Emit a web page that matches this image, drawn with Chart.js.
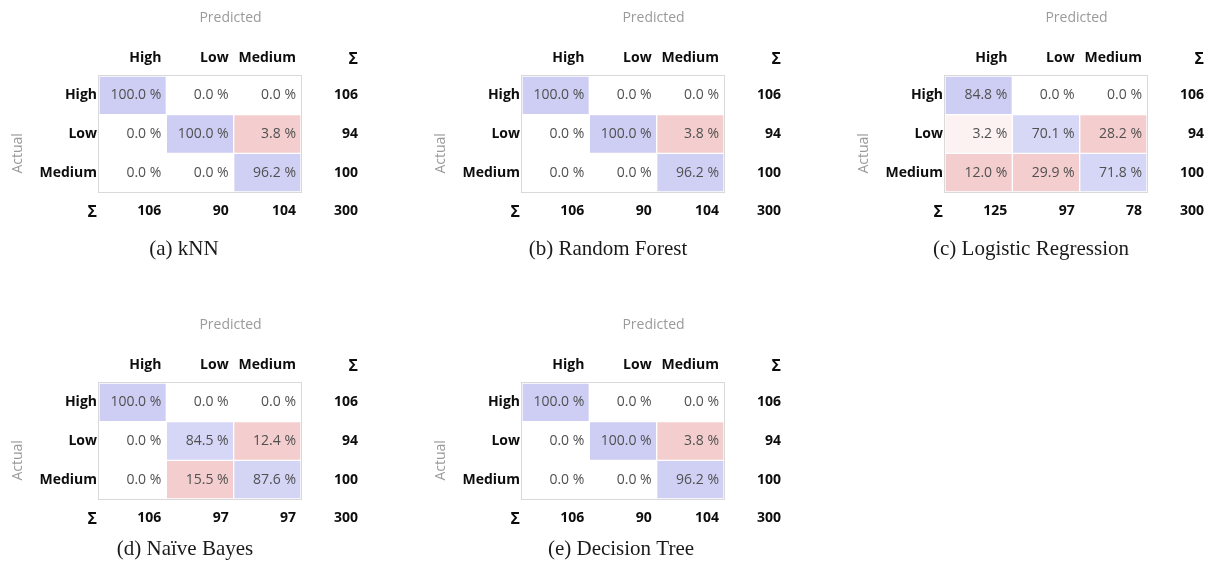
<!DOCTYPE html>
<html>
<head>
<meta charset="utf-8">
<title>Confusion matrices</title>
<script src="https://cdn.jsdelivr.net/npm/chart.js@4.4.1/dist/chart.umd.min.js"></script>
<style>
  html, body { margin: 0; padding: 0; background: #ffffff; }
  #wrap { position: relative; width: 1212px; height: 569px; overflow: hidden; }
  .panel { position: absolute; }
</style>
</head>
<body>
<div id="wrap"></div>
<script>
// Class labels (rows = actual, columns = predicted)
const classLabels = ['High', 'Low', 'Medium'];

// Proportion of predicted (%), rows = actual class, columns = predicted class
const knnPct          = [[100.0, 0.0, 0.0], [0.0, 100.0, 3.8], [0.0, 0.0, 96.2]];
const randomForestPct = [[100.0, 0.0, 0.0], [0.0, 100.0, 3.8], [0.0, 0.0, 96.2]];
const logisticPct     = [[84.8, 0.0, 0.0], [3.2, 70.1, 28.2], [12.0, 29.9, 71.8]];
const naiveBayesPct   = [[100.0, 0.0, 0.0], [0.0, 84.5, 12.4], [0.0, 15.5, 87.6]];
const decisionTreePct = [[100.0, 0.0, 0.0], [0.0, 100.0, 3.8], [0.0, 0.0, 96.2]];

// Row totals (actual counts) and column totals (predicted counts)
const actualTotals           = [106, 94, 100];
const knnPredTotals          = [106, 90, 104];
const randomForestPredTotals = [106, 90, 104];
const logisticPredTotals     = [125, 97, 78];
const naiveBayesPredTotals   = [106, 97, 97];
const decisionTreePredTotals = [106, 90, 104];
const grandTotal = 300;

const captions = ['(a) kNN', '(b) Random Forest', '(c) Logistic Regression', '(d) Naïve Bayes', '(e) Decision Tree'];

const matrices = [knnPct, randomForestPct, logisticPct, naiveBayesPct, decisionTreePct];
const predTotals = [knnPredTotals, randomForestPredTotals, logisticPredTotals, naiveBayesPredTotals, decisionTreePredTotals];

// Panel placement on the page
const panelLayout = [
  { left: 0,   top: 0,   width: 423, height: 262, capDx: 85,  capDy: 57 },
  { left: 423, top: 0,   width: 423, height: 262, capDx: 86,  capDy: 57 },
  { left: 846, top: 0,   width: 366, height: 262, capDx: 86,  capDy: 57 },
  { left: 0,   top: 307, width: 423, height: 262, capDx: 86,  capDy: 50 },
  { left: 423, top: 307, width: 423, height: 262, capDx: 99,  capDy: 50 }
];

const GRID_LEFT = 99, GRID_TOP = 76, GRID_W = 202, GRID_H = 116;
const SUM_COL_OFFSET = 57;
const UI_FONT = '"Open Sans", "Noto Sans", sans-serif';

// Cell shading: diagonal in blue, errors in red, lightness from the normalized value
function cellColors(pct) {
  const n = pct.length;
  const diagMax = Math.max(...pct.map((r, i) => r[i]));
  const colOffMax = [];
  for (let j = 0; j < n; j++) {
    let m = 0;
    for (let i = 0; i < n; i++) if (i !== j) m = Math.max(m, pct[i][j]);
    colOffMax.push(m === 0 ? 1 : m);
  }
  return pct.map((row, i) => row.map((v, j) => {
    const norm = i === j ? (diagMax > 0 ? v / diagMax : 0) : v / colOffMax[j];
    const light = (255 - 30 * norm) / 255 * 100;
    const hue = i === j ? 240 : 0;
    return `hsl(${hue}, ${(160 / 255 * 100).toFixed(2)}%, ${light.toFixed(2)}%)`;
  }));
}

const tablePlugin = {
  id: 'confusionTable',
  afterDatasetsDraw(chart, args, opts) {
    const { ctx, chartArea: a } = chart;
    const pct = opts.pct;
    const rowH = (a.bottom - a.top) / 3;
    const bar = (i, j) => chart.getDatasetMeta(i).data[j].getProps(['x', 'y', 'base', 'width'], true);
    const colRight = j => { const b = bar(0, j); return b.x + b.width / 2; };
    const rowMid = i => { const b = bar(i, 0); return (b.y + b.base) / 2; };
    const sumRight = a.right + SUM_COL_OFFSET;
    const headerY = a.top - 18;
    const sumRowY = a.bottom + rowH / 2;
    const sigmaFont = `bold 16px ${UI_FONT}`;
    const labelFont = `bold 14px ${UI_FONT}`;

    ctx.save();
    // frame around the matrix
    ctx.strokeStyle = '#d9d9d9';
    ctx.lineWidth = 1;
    ctx.strokeRect(Math.round(a.left) - 0.5, Math.round(a.top) - 0.5, Math.round(a.right - a.left) + 1, Math.round(a.bottom - a.top) + 1);

    ctx.textBaseline = 'middle';

    // axis titles
    ctx.fillStyle = '#9a9a9a';
    ctx.font = `14px ${UI_FONT}`;
    ctx.textAlign = 'center';
    ctx.fillText('Predicted', (a.left + sumRight + 4) / 2, a.top - 58);
    ctx.save();
    ctx.translate(a.left - 81, (a.top + a.bottom + rowH) / 2);
    ctx.rotate(-Math.PI / 2);
    ctx.fillText('Actual', 0, 0);
    ctx.restore();

    // column headers and row labels
    ctx.fillStyle = '#0d0d0d';
    ctx.font = labelFont;
    ctx.textAlign = 'right';
    classLabels.forEach((lab, j) => ctx.fillText(lab, colRight(j) - 5, headerY));
    classLabels.forEach((lab, i) => ctx.fillText(lab, a.left - 2, rowMid(i)));
    ctx.font = sigmaFont;
    ctx.fillText('\u03A3', sumRight, headerY + 1);
    ctx.fillText('\u03A3', a.left - 2, sumRowY + 1);

    // totals
    ctx.font = labelFont;
    opts.rowTotals.forEach((v, i) => ctx.fillText(String(v), sumRight, rowMid(i)));
    opts.colTotals.forEach((v, j) => ctx.fillText(String(v), colRight(j) - 5, sumRowY));
    ctx.fillText(String(opts.total), sumRight, sumRowY);

    // cell values
    ctx.fillStyle = '#505050';
    ctx.font = `14px ${UI_FONT}`;
    pct.forEach((row, i) => row.forEach((v, j) => {
      ctx.fillText(v.toFixed(1) + ' %', colRight(j) - 5, rowMid(i));
    }));

    // caption
    ctx.fillStyle = '#1a1a1a';
    ctx.font = '21px "Liberation Serif", "Times New Roman", serif';
    ctx.textAlign = 'center';
    ctx.fillText(opts.caption, a.left + opts.capDx, a.bottom + opts.capDy);
    ctx.restore();
  }
};

const wrap = document.getElementById('wrap');
matrices.forEach((pct, k) => {
  const L = panelLayout[k];
  const div = document.createElement('div');
  div.className = 'panel';
  div.style.left = L.left + 'px';
  div.style.top = L.top + 'px';
  const canvas = document.createElement('canvas');
  canvas.width = L.width;
  canvas.height = L.height;
  canvas.style.width = L.width + 'px';
  canvas.style.height = L.height + 'px';
  div.appendChild(canvas);
  wrap.appendChild(div);

  const colors = cellColors(pct);
  // one stacked dataset per actual class; each stack segment is one unit cell
  const datasets = classLabels.map((lab, i) => ({
    label: lab,
    data: classLabels.map(() => 1),
    backgroundColor: colors[i],
    borderColor: '#ffffff',
    borderWidth: 1,
    borderSkipped: false,
    barPercentage: 1,
    categoryPercentage: 1
  }));

  new Chart(canvas, {
    type: 'bar',
    data: { labels: classLabels, datasets },
    options: {
      responsive: false,
      animation: false,
      devicePixelRatio: 1,
      layout: {
        padding: {
          left: GRID_LEFT,
          top: GRID_TOP,
          right: L.width - GRID_LEFT - GRID_W,
          bottom: L.height - GRID_TOP - GRID_H
        }
      },
      scales: {
        x: { display: false, stacked: true },
        y: { display: false, stacked: true, min: 0, max: 3, reverse: true }
      },
      plugins: {
        legend: { display: false },
        tooltip: { enabled: false },
        confusionTable: {
          pct,
          rowTotals: actualTotals,
          colTotals: predTotals[k],
          total: grandTotal,
          caption: captions[k],
          capDx: L.capDx,
          capDy: L.capDy
        }
      }
    },
    plugins: [tablePlugin]
  });
});
</script>
</body>
</html>
